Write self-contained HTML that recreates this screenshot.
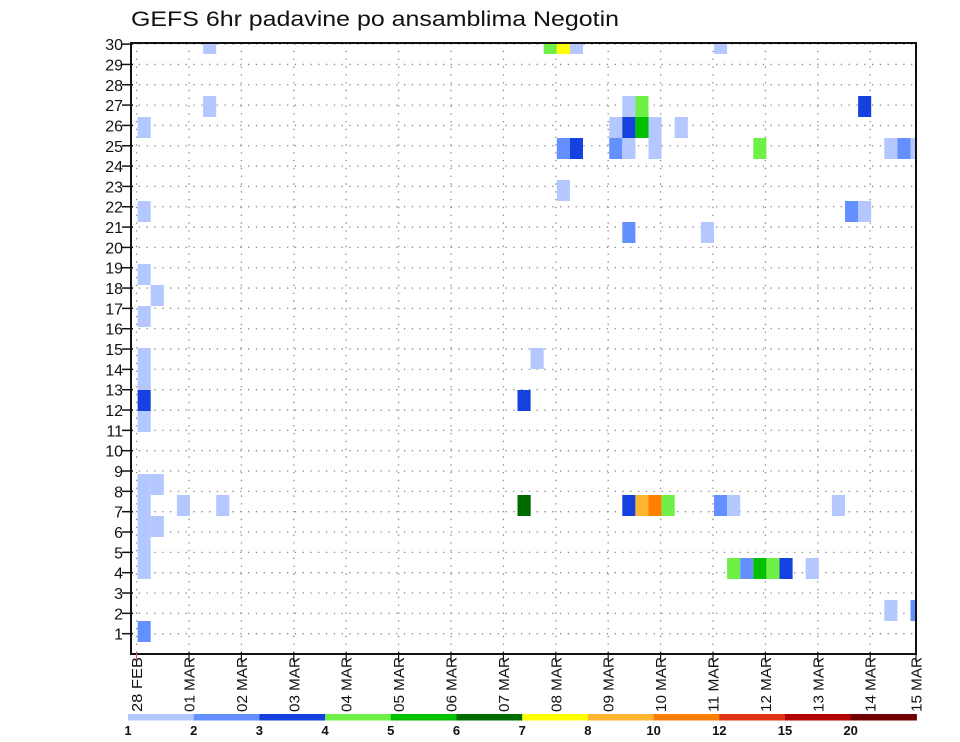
<!DOCTYPE html>
<html><head><meta charset="utf-8">
<style>
html,body{margin:0;padding:0;background:#fff;}
svg{display:block;font-family:"Liberation Sans",sans-serif;}
</style></head>
<body>
<svg id="chart" width="960" height="742" viewBox="0 0 960 742" xmlns="http://www.w3.org/2000/svg">
<rect width="960" height="742" fill="#fff"/>
<text x="131" y="26" font-size="21" textLength="488" lengthAdjust="spacingAndGlyphs" fill="#111">GEFS 6hr padavine po ansamblima Negotin</text>
<g id="grid"></g>
<g id="cells"></g>
<g id="axes"></g>
<g id="colorbar"></g>
</svg>
<script>
// ---- data ----
const dayLabels = ["28 FEB","01 MAR","02 MAR","03 MAR","04 MAR","05 MAR","06 MAR","07 MAR","08 MAR","09 MAR","10 MAR","11 MAR","12 MAR","13 MAR","14 MAR","15 MAR"];
const memberTicks = [1,2,3,4,5,6,7,8,9,10,11,12,13,14,15,16,17,18,19,20,21,22,23,24,25,26,27,28,29,30];
const levelBounds = [1,2,3,4,5,6,7,8,10,12,15,20];
const levelColors = ["#b4c8ff","#6490ff","#1441e0","#6ef046","#00c000","#006c00","#ffff00","#ffb432","#ff8000","#e23214","#b40000","#700000"];
// precipitation cells: time step (6h), member index, value in mm
const cellStep = [0,0,0,1,0,0,0,0,0,0,0,1,3,6,0,1,0,0,0,5,5,
  29,29,30,29,37,38,39,40,44,45,53,45,46,47,48,49,51,57,59,
  31,32,33,44,37,38,55,36,37,38,39,41,32,33,36,37,39,47,57,58,59,32,54,55,37,43];
const cellMember = [26,22,19,18,17,15,14,13,12,9,8,9,8,8,7,7,6,5,2,30,27,
  13,8,15,8,8,8,8,8,8,8,8,5,5,5,5,5,5,3,3,
  30,30,30,30,27,27,27,26,26,26,26,26,25,25,25,25,25,25,25,25,25,23,22,22,21,21];
const cellValue = [1.5,1.5,1.5,1.5,1.5,1.5,1.5,3.5,1.5,1.5,1.5,1.5,1.5,1.5,1.5,1.5,1.5,1.5,2.5,1.5,1.5,
  3.5,6.5,1.5,6.5,3.5,9,11,4.5,2.5,1.5,1.5,4.5,2.5,5.5,4.5,3.5,1.5,1.5,2.5,
  4.5,7.5,1.5,1.5,1.5,4.5,3.5,1.5,3.5,5.5,1.5,1.5,2.5,3.5,2.5,1.5,1.5,4.5,1.5,2.5,1.5,1.5,2.5,1.5,2.5,1.5];

// ---- scales ----
const L=131, R=916, T=43, B=654;
const NS="http://www.w3.org/2000/svg";
function mk(tag,attrs,parent){const e=document.createElementNS(NS,tag);for(const k in attrs)e.setAttribute(k,attrs[k]);parent.appendChild(e);return e;}
const dayX = d => 136.6 + 52.4*d;
const stepX = s => 137.6 + 13.1*s;
const tickY = k => B - 20.33*k;
const cellTop = m => 663 - 21*m;
function colorFor(v){let i=0;for(let j=0;j<levelBounds.length;j++){if(v>=levelBounds[j])i=j;}return levelColors[i];}

const grid=document.getElementById('grid'), cells=document.getElementById('cells'), axes=document.getElementById('axes'), cb=document.getElementById('colorbar');

// grid
memberTicks.forEach(k=>{
  const l=mk('line',{x1:L,x2:R,y1:tickY(k),y2:tickY(k),stroke:"#888","stroke-width":1.3,"stroke-dasharray":"1.3 6.5"},grid);
  
  
});
dayLabels.forEach((d,i)=>{
  const x=dayX(i); if(x>R) return;
  const l=mk('line',{x1:x,x2:x,y1:T,y2:B,stroke:"#888","stroke-width":1.3,"stroke-dasharray":"1.3 6.5"},grid);
  
  
});

// cells
const clip=mk('clipPath',{id:'plotclip'},mk('defs',{},document.getElementById('chart')));
mk('rect',{x:L,y:T,width:R-L,height:B-T},clip);
cells.setAttribute('clip-path','url(#plotclip)');
cellStep.forEach((s,i)=>{
  const r=mk('rect',{x:stepX(s),y:cellTop(cellMember[i]),width:13.1,height:21,fill:colorFor(cellValue[i])},cells);
  
  
});

// axes frame
const frame=mk('rect',{x:L,y:T,width:R-L,height:B-T,fill:"none",stroke:"#111","stroke-width":2},axes);


memberTicks.forEach(k=>{
  const y=tickY(k);
  mk('line',{x1:L-9,x2:L+2,y1:y,y2:y,stroke:"#111","stroke-width":1.5},axes);
  const t=mk('text',{x:L-8,y:y+6,"font-size":16,"text-anchor":"end",fill:"#111"},axes);
  t.textContent=k;
  
  
});
dayLabels.forEach((d,i)=>{
  const x=Math.min(dayX(i),R);
  mk('line',{x1:x,x2:x,y1:B-2,y2:B+8,stroke:i==0?"#c66":"#111","stroke-width":1.2},axes);
  const t=mk('text',{x:0,y:0,"font-size":15,"text-anchor":"end",fill:"#111",textLength:55,lengthAdjust:"spacingAndGlyphs",transform:`translate(${x+5.5},657) rotate(-90)`},axes);
  t.textContent=d;
  
  
});

// colorbar
const cbL=128, cbW=65.7;
levelColors.forEach((c,i)=>{
  const r=mk('rect',{x:cbL+i*cbW,y:714,width:cbW+0.5,height:6.5,fill:c},cb);
  
  
});
levelBounds.forEach((b,i)=>{
  const t=mk('text',{x:cbL+i*cbW,y:735,"font-size":13,"font-weight":"bold","text-anchor":"middle",fill:"#111"},cb);
  t.textContent=b;
  
  
});
</script>
</body></html>
